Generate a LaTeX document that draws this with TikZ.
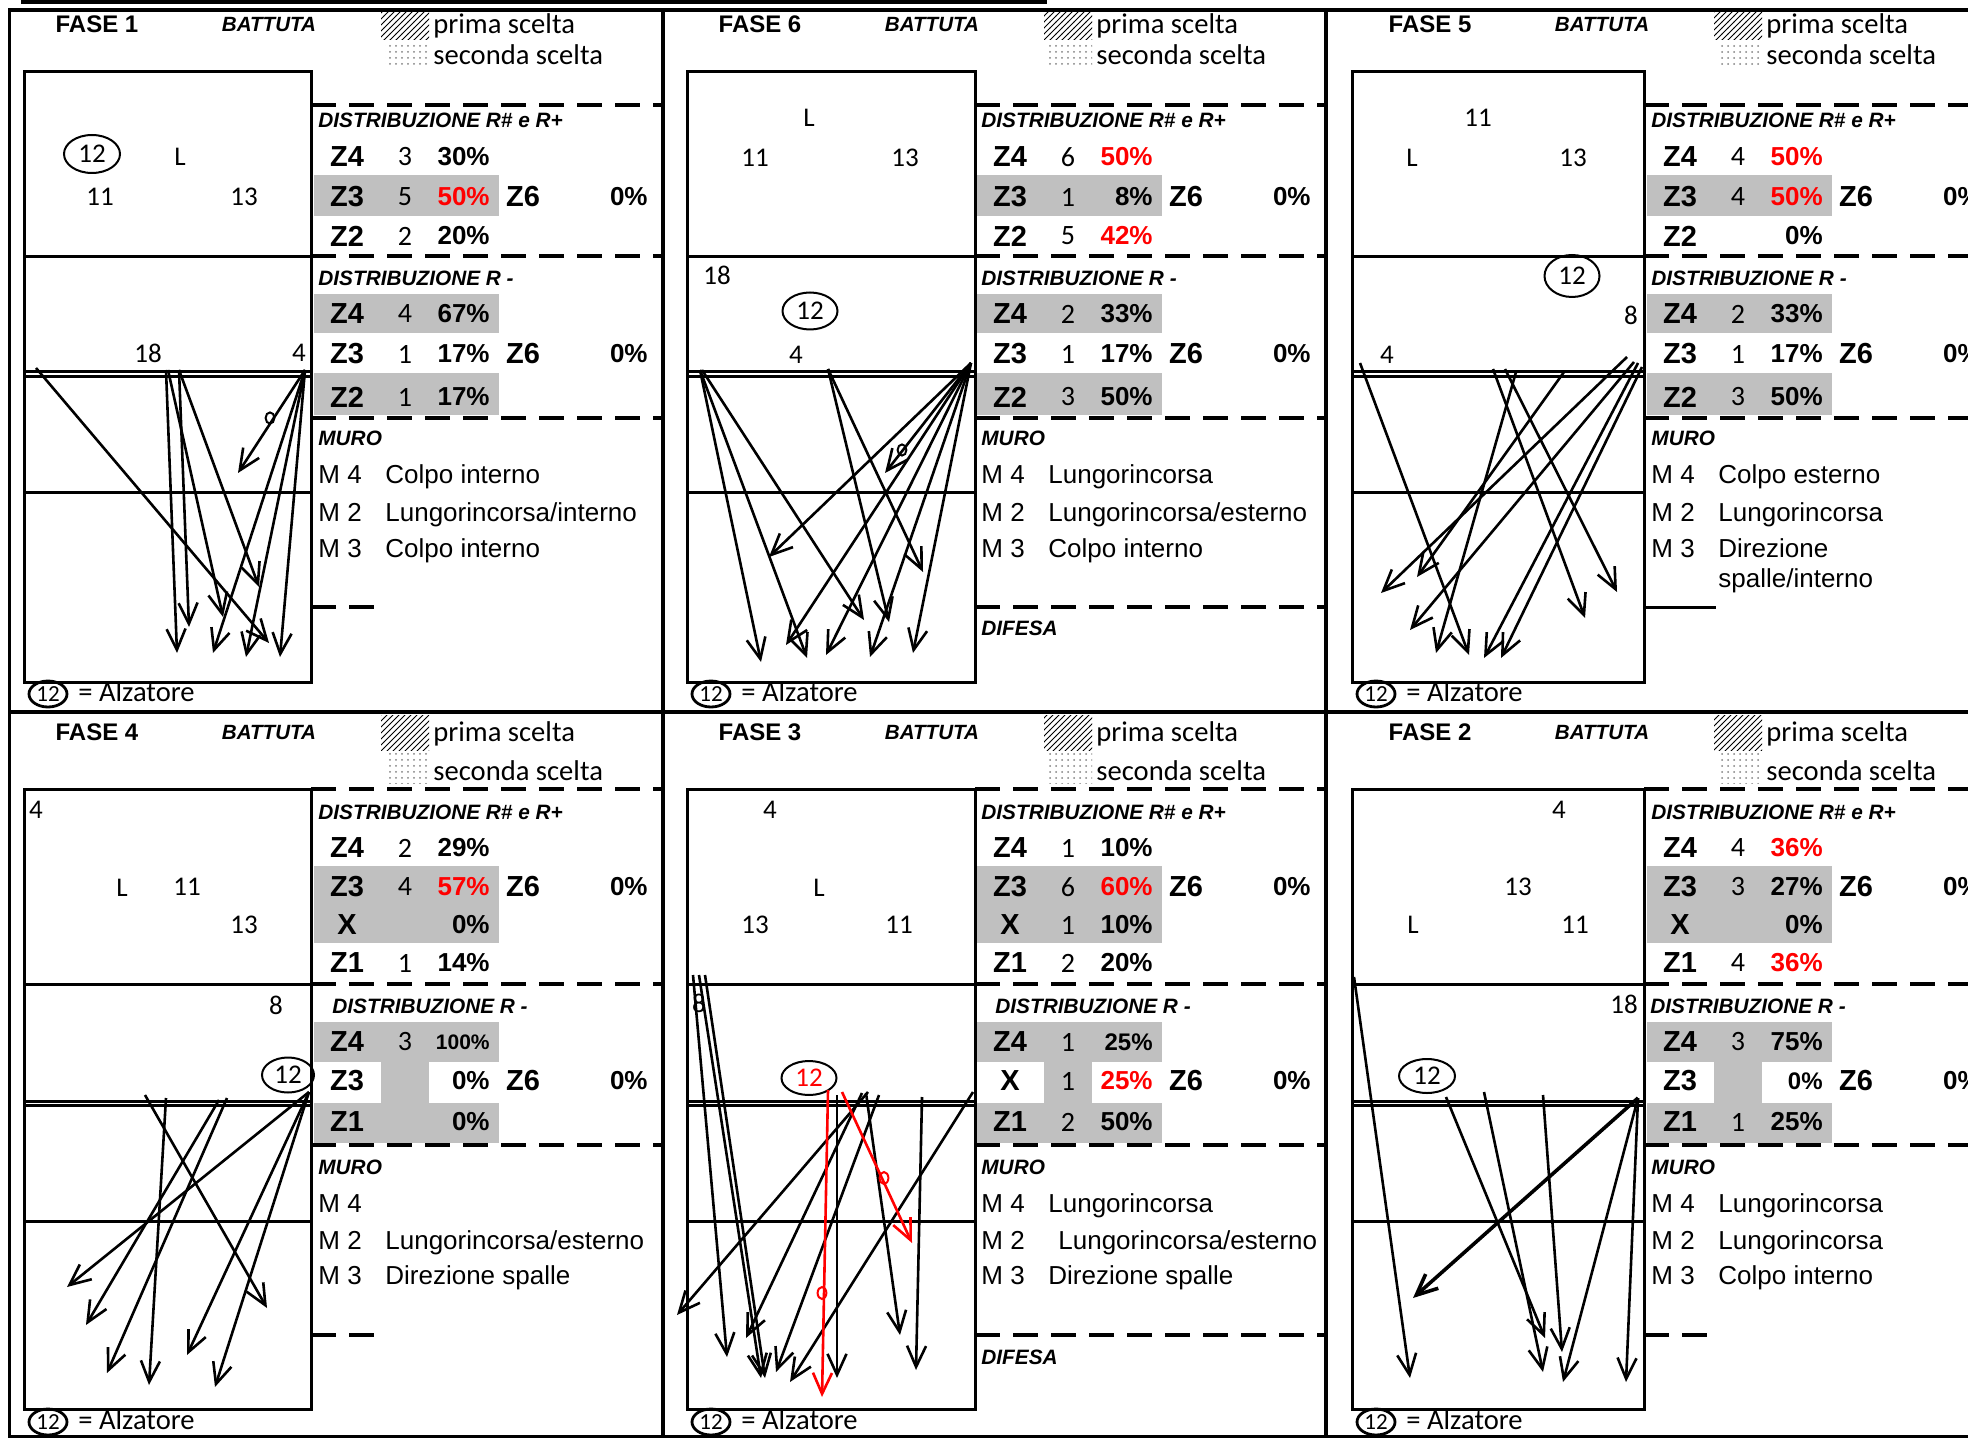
\documentclass[tikz,border=0pt]{standalone}
\usepackage{fontspec}
\setmainfont{Liberation Sans}
\newfontfamily\calibri{Carlito}
\usetikzlibrary{shapes.geometric,arrows.meta,patterns,positioning}
\definecolor{grigio}{RGB}{192,192,192}
\definecolor{rosso}{RGB}{255,0,0}
\tikzset{
  cornice/.style={line width=1.8pt},
  campo/.style={line width=1.5pt},
  tratto/.style={line width=2pt, dash pattern=on 12.5pt off 6.5pt},
  tiro/.style={line width=1.3pt, -{Straight Barb[length=10.5pt,width=9.5pt]}},
  banda/.style={fill=grigio},
  fase/.style={font=\bfseries\fontsize{12}{14}\selectfont, inner sep=0pt},
  battuta/.style={font=\bfseries\itshape\fontsize{10.3}{12}\selectfont, inner sep=0pt},
  leg/.style={font=\calibri\fontsize{14.3}{16}\selectfont, anchor=mid west, inner sep=0pt},
  distr/.style={font=\bfseries\itshape\fontsize{10.4}{12}\selectfont, anchor=west, inner sep=0pt},
  zona/.style={font=\bfseries\fontsize{14.5}{16}\selectfont, inner sep=0pt},
  conta/.style={font=\calibri\fontsize{14}{16}\selectfont, inner sep=0pt},
  perc/.style={font=\bfseries\fontsize{13}{15}\selectfont, anchor=east, inner sep=0pt},
  descr/.style={font=\fontsize{13}{15}\selectfont, anchor=mid west, inner sep=0pt},
  gioc/.style={font=\calibri\fontsize{13.5}{15}\selectfont, inner sep=0pt},
  alz/.style={ellipse, draw, line width=1pt, minimum width=28pt, minimum height=19pt,
              inner sep=0pt, font=\calibri\fontsize{13.5}{15}\selectfont},
  alzpic/.style={ellipse, draw, line width=1.4pt, minimum width=19pt, minimum height=13pt,
                 inner sep=0pt, font=\calibri\fontsize{11.5}{12}\selectfont},
  pallino/.style={line width=1pt}
}
\newcommand{\rigatab}[5]{%
  \node[zona] (z#1) at (323,#1) {#2};
  \node[conta] (n#1) at (381,#1) {#3};
  \node[perc,text=#5] (p#1) at (466,#1) {#4};}

\begin{document}
\begin{tikzpicture}[x=0.5pt,y=-0.5pt]
\useasboundingbox (0,0) rectangle (1968,1438);

% striscia in alto e cornice
\draw[cornice] (23,-6) -- (23,2) -- (1045,2) -- (1045,-6);
\foreach \xt in {215,497} \draw[cornice] (\xt,-6) -- (\xt,2);
\draw[cornice] (1980,10) -- (9.5,10) -- (9.5,1437) -- (1980,1437);
\draw[cornice] (9.5,712) -- (1980,712);
\foreach \xs in {663,1326} \draw[cornice] (\xs,10) -- (\xs,1437);

% riga alta: parti comuni
\foreach \cl/\f in {24/1,687/6,1357/5}{
  \begin{scope}[shift={(\cl,0)}]
    \fill[banda] (290,175) rectangle (475,216);
    \fill[banda] (290,294) rectangle (475,333);
    \fill[banda] (290,373) rectangle (475,415);
    \fill[pattern=north east lines] (357,13) rectangle (405,40);
    \fill[pattern=dots,pattern color=gray] (361,43) rectangle (405,68);
    \node[fase] (fase\f) at (73,24) {FASE \f};
    \node[battuta] (batt\f) at (245,25) {BATTUTA};
    \node[leg] (prima\f) at (409,28) {prima scelta};
    \node[leg] (seconda\f) at (409,59) {seconda scelta};
    \node[distr] (rpiu\f) at (294,120) {DISTRIBUZIONE R\# e R+};
    \node[distr] (rmeno\f) at (294,278) {DISTRIBUZIONE R -};
    \node[distr] (muro\f) at (294,438) {MURO};
    \node[zona] (zsei\f) at (499,197) {Z6};
    \node[perc] (psei\f) at (624,197) {0\%};
    \node[zona] (zseib\f) at (499,354) {Z6};
    \node[perc] (pseib\f) at (624,354) {0\%};
    \foreach \m/\y in {4/478,2/516,3/552}
      \node[descr] (m\m-\f) at (294,\y) {M \m};
  \end{scope}
}

% riga bassa: parti comuni
\foreach \cl/\f/\dx in {24/4/308,687/3/308,1357/2/293}{
  \begin{scope}[shift={(\cl,0)}]
    \fill[banda] (290,866) rectangle (475,943);
    \fill[banda] (290,1022) rectangle (475,1062);
    \fill[banda] (357,1062) rectangle (405,1103);
    \fill[banda] (290,1103) rectangle (475,1143);
    \fill[pattern=north east lines] (357,715) rectangle (405,750);
    \fill[pattern=dots,pattern color=gray] (361,750) rectangle (405,783);
    \node[fase] (fase\f) at (73,732) {FASE \f};
    \node[battuta] (batt\f) at (245,733) {BATTUTA};
    \node[leg] (prima\f) at (409,736) {prima scelta};
    \node[leg] (seconda\f) at (409,775) {seconda scelta};
    \node[distr] (rpiu\f) at (294,812) {DISTRIBUZIONE R\# e R+};
    \node[distr] (rmeno\f) at (\dx,1006) {DISTRIBUZIONE R -};
    \node[distr] (muro\f) at (294,1167) {MURO};
    \node[zona] (zsei\f) at (499,887) {Z6};
    \node[perc] (psei\f) at (624,887) {0\%};
    \node[zona] (zseib\f) at (499,1081) {Z6};
    \node[perc] (pseib\f) at (624,1081) {0\%};
    \foreach \m/\y in {4/1207,2/1244,3/1279}
      \node[descr] (m\m-\f) at (294,\y) {M \m};
  \end{scope}
}

% FASE 1
\begin{scope}[shift={(24,0)}]
  \rigatab{157}{Z4}{3}{30\%}{black}
  \rigatab{197}{Z3}{5}{50\%}{rosso}
  \rigatab{236}{Z2}{2}{20\%}{black}
  \rigatab{314}{Z4}{4}{67\%}{black}
  \rigatab{354}{Z3}{1}{17\%}{black}
  \rigatab{397}{Z2}{1}{17\%}{black}
  \node[descr] (c4f1) at (361,478) {Colpo interno};
  \node[descr] (c2f1) at (361,516) {Lungorincorsa/interno};
  \node[descr] (c3f1) at (361,552) {Colpo interno};
  \draw[tratto] (287,607) -- (357,607);
\end{scope}

% FASE 6
\begin{scope}[shift={(687,0)}]
  \rigatab{157}{Z4}{6}{50\%}{rosso}
  \rigatab{197}{Z3}{1}{8\%}{black}
  \rigatab{236}{Z2}{5}{42\%}{rosso}
  \rigatab{314}{Z4}{2}{33\%}{black}
  \rigatab{354}{Z3}{1}{17\%}{black}
  \rigatab{397}{Z2}{3}{50\%}{black}
  \node[descr] (c4f6) at (361,478) {Lungorincorsa};
  \node[descr] (c2f6) at (361,516) {Lungorincorsa/esterno};
  \node[descr] (c3f6) at (361,552) {Colpo interno};
  \draw[tratto] (288,607) -- (639,607);
  \node[distr] (dif6) at (294,628) {DIFESA};
\end{scope}

% FASE 5
\begin{scope}[shift={(1357,0)}]
  \rigatab{157}{Z4}{4}{50\%}{rosso}
  \rigatab{197}{Z3}{4}{50\%}{rosso}
  \rigatab{236}{Z2}{}{0\%}{black}
  \rigatab{314}{Z4}{2}{33\%}{black}
  \rigatab{354}{Z3}{1}{17\%}{black}
  \rigatab{397}{Z2}{3}{50\%}{black}
  \node[descr] (c4f5) at (361,478) {Colpo esterno};
  \node[descr] (c2f5) at (361,516) {Lungorincorsa};
  \node[descr] (c3f5) at (361,552) {Direzione};
  \node[descr] (c3bf5) at (361,582) {spalle/interno};
  \draw[campo] (287,607) -- (359,607);
\end{scope}

% FASE 4
\begin{scope}[shift={(24,0)}]
  \rigatab{848}{Z4}{2}{29\%}{black}
  \rigatab{887}{Z3}{4}{57\%}{rosso}
  \rigatab{925}{X}{}{0\%}{black}
  \rigatab{963}{Z1}{1}{14\%}{black}
  \rigatab{1042}{Z4}{3}{\fontsize{10.5}{12}\selectfont 100\%}{black}
  \fill[white] (292,1063) rectangle (356,1102);
  \fill[white] (406,1063) rectangle (473,1102);
  \rigatab{1081}{Z3}{}{0\%}{black}
  \rigatab{1122}{Z1}{}{0\%}{black}
  \node[descr] (c2f4) at (361,1244) {Lungorincorsa/esterno};
  \node[descr] (c3f4) at (361,1279) {Direzione spalle};
  \draw[tratto] (287,1335) -- (357,1335);
\end{scope}

% FASE 3
\begin{scope}[shift={(687,0)}]
  \rigatab{848}{Z4}{1}{10\%}{black}
  \rigatab{887}{Z3}{6}{60\%}{rosso}
  \rigatab{925}{X}{1}{10\%}{black}
  \rigatab{963}{Z1}{2}{20\%}{black}
  \rigatab{1042}{Z4}{1}{\fontsize{12}{14}\selectfont 25\%}{black}
  \fill[white] (292,1063) rectangle (356,1102);
  \fill[white] (406,1063) rectangle (473,1102);
  \rigatab{1081}{X}{1}{25\%}{rosso}
  \rigatab{1122}{Z1}{2}{50\%}{black}
  \node[descr] (c4f3) at (361,1207) {Lungorincorsa};
  \node[descr] (c2f3) at (371,1244) {Lungorincorsa/esterno};
  \node[descr] (c3f3) at (361,1279) {Direzione spalle};
  \draw[tratto] (288,1335) -- (639,1335);
  \node[distr] (dif3) at (294,1357) {DIFESA};
\end{scope}

% FASE 2
\begin{scope}[shift={(1357,0)}]
  \rigatab{848}{Z4}{4}{36\%}{rosso}
  \rigatab{887}{Z3}{3}{27\%}{black}
  \rigatab{925}{X}{}{0\%}{black}
  \rigatab{963}{Z1}{4}{36\%}{rosso}
  \rigatab{1042}{Z4}{3}{75\%}{black}
  \fill[white] (292,1063) rectangle (356,1102);
  \fill[white] (406,1063) rectangle (473,1102);
  \rigatab{1081}{Z3}{}{\fontsize{12}{14}\selectfont 0\%}{black}
  \rigatab{1122}{Z1}{1}{25\%}{black}
  \node[descr] (c4f2) at (361,1207) {Lungorincorsa};
  \node[descr] (c2f2) at (361,1244) {Lungorincorsa};
  \node[descr] (c3f2) at (361,1279) {Colpo interno};
  \draw[tratto] (287,1335) -- (359,1335);
\end{scope}

% campi
\foreach \cl/\cr/\ce in {24/311/663,687/975/1326,1352/1644/1980}{
  \draw[campo] (\cl,72) rectangle (\cr,682);
  \foreach \yc in {257,372,377,492} \draw[campo] (\cl,\yc) -- (\cr,\yc);
  \foreach \yd in {105,256,418} \draw[tratto] (\cr,\yd) -- (\ce,\yd);
  \node[alzpic] (alzA\cl) at (\cl+24,694) {12};
  \node[leg] (alzatA\cl) at (\cl+54,696) {= Alzatore};
  \draw[campo] (\cl,789) rectangle (\cr,1409);
  \foreach \yc in {984,1101,1105,1221} \draw[campo] (\cl,\yc) -- (\cr,\yc);
  \foreach \yd in {789,984,1145} \draw[tratto] (\cr,\yd) -- (\ce,\yd);
  \node[alzpic] (alzB\cl) at (\cl+24,1422) {12};
  \node[leg] (alzatB\cl) at (\cl+54,1424) {= Alzatore};
}

% giocatori FASE 1
\node[alz] (alz1) at (92,154) {12};
\node[gioc] (l1) at (180,157) {L};
\node[gioc] (g11a) at (100,197) {11};
\node[gioc] (g13a) at (244,197) {13};
\node[gioc] (g18a) at (148,353) {18};
\node[gioc] (g4a) at (299,353) {4};
% giocatori FASE 6
\node[alz,minimum width=27.5pt,minimum height=18.5pt] (alz6) at (810,311) {12};
\node[gioc] (l6) at (809,118) {L};
\node[gioc] (g11f) at (755,158) {11};
\node[gioc] (g13f) at (905,158) {13};
\node[gioc] (g18f) at (717,275) {18};
\node[gioc] (g4f) at (796,355) {4};
% giocatori FASE 5
\node[alz,minimum width=27.5pt,minimum height=21pt] (alz5) at (1572,276) {12};
\node[gioc] (g11e) at (1478,118) {11};
\node[gioc] (l5) at (1412,158) {L};
\node[gioc] (g13e) at (1573,158) {13};
\node[gioc] (g8e) at (1631,315) {8};
\node[gioc] (g4e) at (1387,355) {4};
% giocatori FASE 4
\node[gioc] (g4d) at (36,810) {4};
\node[gioc] (l4) at (122,888) {L};
\node[gioc] (g11d) at (187,887) {11};
\node[gioc] (g13d) at (244,925) {13};
\node[gioc] (g8d) at (276,1005) {8};
\node[alz,minimum width=26pt,minimum height=17.5pt] (alz4) at (288,1075) {12};
% giocatori FASE 3
\node[gioc] (g4c) at (770,810) {4};
\node[gioc] (l3) at (819,888) {L};
\node[gioc] (g13c) at (755,925) {13};
\node[gioc] (g11c) at (899,925) {11};
\node[gioc] (g8c) at (699,1003) {8};
\node[alz,text=rosso,minimum width=27.5pt,minimum height=17pt] (alz3) at (809,1078) {12};
% giocatori FASE 2
\node[gioc] (g4b) at (1559,810) {4};
\node[gioc] (g13b) at (1518,887) {13};
\node[gioc] (l2) at (1413,925) {L};
\node[gioc] (g11b) at (1575,925) {11};
\node[gioc] (g18b) at (1624,1004) {18};
\node[alz,minimum width=28pt,minimum height=17pt] (alz2) at (1427,1076) {12};

% attacchi
\foreach \xa/\ya/\xb/\yb in {36/368/269/643, 166/370/177/653, 179/370/189/627,
    168/370/223/617, 179/370/259/587, 305/370/213/653, 305/370/246/657,
    305/370/280/657, 305/370/238/473}
  \draw[tiro] (\xa,\ya) -- (\xb,\yb);
\draw[pallino] (270,418) ellipse [x radius=2.2pt, y radius=2.8pt];

\foreach \xa/\ya/\xb/\yb in {700/370/761/662, 700/370/807/658, 702/370/864/620,
    828/369/889/622, 828/369/923/572, 971/363/769/557, 971/363/786/645,
    971/363/826/655, 971/363/870/657, 971/363/913/653, 971/363/885/473}
  \draw[tiro] (\xa,\ya) -- (\xb,\yb);
\draw[pallino] (902,450) ellipse [x radius=2.2pt, y radius=2.8pt];

\foreach \xa/\ya/\xb/\yb in {1360/363/1469/655, 1493/369/1585/618, 1505/369/1617/592,
    1516/372/1436/653, 1564/372/1417/577, 1627/357/1381/593, 1634/362/1410/630,
    1638/363/1484/658, 1642/367/1501/658}
  \draw[tiro] (\xa,\ya) -- (\xb,\yb);

\foreach \xa/\ya/\xb/\yb in {145/1095/267/1308, 166/1098/149/1385, 219/1100/86/1325,
    227/1098/107/1373, 309/1092/67/1287, 309/1092/187/1355, 309/1092/215/1387}
  \draw[tiro] (\xa,\ya) -- (\xb,\yb);

\foreach \xa/\ya/\xb/\yb in {693/975/727/1357, 699/975/761/1378, 705/975/765/1378,
    868/1092/677/1315, 862/1093/746/1338, 879/1095/776/1372, 866/1093/900/1335,
    837/1095/837/1378, 922/1097/916/1370, 973/1092/790/1382}
  \draw[tiro] (\xa,\ya) -- (\xb,\yb);
\draw[tiro,rosso] (828,1090) -- (822,1397);
\draw[tiro,rosso] (842,1092) -- (912,1243);
\draw[pallino,rosso] (822,1293) ellipse [x radius=2.2pt, y radius=3pt];
\draw[pallino,rosso] (884,1178) ellipse [x radius=2.2pt, y radius=3pt];

\foreach \xa/\ya/\xb/\yb in {1354/977/1410/1378, 1446/1097/1545/1338, 1484/1092/1543/1372,
    1543/1095/1562/1352, 1638/1098/1563/1382, 1638/1098/1626/1382}
  \draw[tiro] (\xa,\ya) -- (\xb,\yb);
\draw[tiro,line width=1.8pt] (1638,1098) -- (1413,1298);
\end{tikzpicture}
\end{document}
